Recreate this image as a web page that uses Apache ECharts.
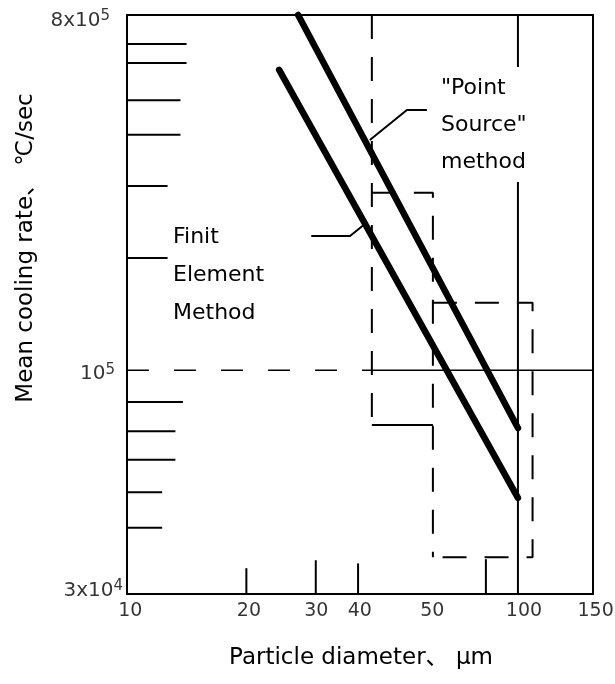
<!DOCTYPE html>
<html>
<head>
<meta charset="utf-8">
<script src="https://cdn.jsdelivr.net/npm/echarts@6/dist/echarts.min.js"></script>
<style>
  html, body { margin: 0; background: #fff; }
  #main { width: 615px; height: 684px; }
</style>
</head>
<body>
<div id="main"></div>
<script>
// mean cooling rate vs particle diameter, both axes log
const pointSourceDiameter = [27.4, 100]
const pointSourceRate = [800000, 71300]
const finiteElemDiameter = [24.5, 100]
const finiteElemRate = [580000, 47400]

// short inside ticks (left side: rate + how far they reach, bottom: diameter + height)
const yMinorRates = [675000, 604000, 486000, 397000, 294000, 193000, 83100, 70000, 59200, 49000, 39800]
const yMinorEnds = [14.2, 14.2, 13.7, 13.7, 12.7, 12.7, 13.9, 13.3, 13.3, 12.3, 12.3]
const xMinorDiameters = [20.2, 30.4, 39.0, 82.8]
const xMinorTops = [31400, 32900, 32300, 33100]

// tick labels as printed on the figure
const xLabelAt = [10.2, 20.5, 30.5, 39.4, 60.4, 103.6, 158]
const xLabelText = ['10', '20', '30', '40', '50', '100', '150']
const yLabelAt = [800000, 100000, 27000]
const yLabelText = ['{b|8x10}{s|5}', '{b|10}{s|5}', '{b|3x10}{s|4}']

// reference lines and the two dashed ranges
const rateRef = 100000
const rateRefSplit = 42.3
const diamRef = 100
const diamRefGap = [301000, 590000]
const box1Diam = [42.3, 60.6]
const box1Rate = [72600, 282800]
const box2Diam = [60.6, 109]
const box2Rate = [33500, 148400]

const xMin = 10, xMax = 155.6
const yMin = 27000, yMax = 800000
const FONT = '"DejaVu Sans", "Noto Sans CJK JP", sans-serif'

function seg (pts, opt) {
  opt = opt || {}
  return {
    type: 'line',
    data: pts,
    symbol: 'none',
    silent: true,
    clip: false,
    z: opt.z || 2,
    lineStyle: {
      color: '#000',
      width: opt.width || 2,
      type: opt.dash || 'solid',
      cap: opt.cap || 'butt'
    }
  }
}

let series = []

// thick result lines
series.push(seg(pointSourceDiameter.map((d, i) => [d, pointSourceRate[i]]), { width: 6.5, cap: 'round', z: 5 }))
series.push(seg(finiteElemDiameter.map((d, i) => [d, finiteElemRate[i]]), { width: 6.5, cap: 'round', z: 5 }))

// inside ticks
yMinorRates.forEach((r, i) => series.push(seg([[xMin, r], [yMinorEnds[i], r]])))
xMinorDiameters.forEach((d, i) => series.push(seg([[d, yMin], [d, xMinorTops[i]]])))

// 10^5 line: dashed then solid
series.push(seg([[xMin, rateRef], [rateRefSplit, rateRef]], { width: 1.6, dash: [22, 25] }))
series.push(seg([[rateRefSplit, rateRef], [xMax, rateRef]], { width: 1.6 }))

// 100 um line, broken where the label sits
series.push(seg([[diamRef, yMin], [diamRef, diamRefGap[0]]]))
series.push(seg([[diamRef, diamRefGap[1]], [diamRef, yMax]]))

// dashed boxes
const dash = [24, 18]
series.push(seg([[box1Diam[0], yMax], [box1Diam[0], box1Rate[0]]], { dash: dash }))
series.push(seg([[box1Diam[0], box1Rate[1]], [box1Diam[1], box1Rate[1]], [box1Diam[1], box2Rate[0]]], { dash: dash }))
series.push(seg([[box1Diam[0], box1Rate[0]], [box1Diam[1], box1Rate[0]]]))
series.push(seg([[box2Diam[0], box2Rate[1]], [box2Diam[1], box2Rate[1]], [box2Diam[1], box2Rate[0]], [box2Diam[0], box2Rate[0]]], { dash: dash }))

// leader lines for the two labels
series.push(seg([[58.5, 459000], [52.0, 459000], [41.8, 385000]]))
series.push(seg([[29.6, 219500], [37.2, 219500], [40.3, 234000]]))

// x tick labels
series.push({
  type: 'scatter',
  data: xLabelAt.map(d => [d, yMin]),
  symbolSize: 0,
  silent: true,
  clip: false,
  label: {
    show: true,
    position: 'bottom',
    distance: 8,
    color: '#000',
    fontFamily: FONT,
    fontSize: 19,
    formatter: p => xLabelText[p.dataIndex]
  }
})

// y tick labels with superscripts
const yLabelTweak = [[-17, 5], [-12, 3], [-4, -4]]
series.push({
  type: 'scatter',
  symbolSize: 0,
  silent: true,
  clip: false,
  data: yLabelAt.map((r, i) => ({
    value: [xMin, r],
    label: { offset: yLabelTweak[i] }
  })),
  label: {
    show: true,
    position: 'left',
    distance: 0,
    formatter: p => yLabelText[p.dataIndex],
    rich: {
      b: { fontFamily: FONT, fontSize: 20, color: '#000', lineHeight: 22, verticalAlign: 'bottom' },
      s: { fontFamily: FONT, fontSize: 15, color: '#000', lineHeight: 15, verticalAlign: 'top' }
    }
  }
})

const myChart = echarts.init(document.getElementById('main'))
const option = {
  animation: false,
  backgroundColor: '#fff',
  grid: {
    left: 127, top: 15, right: 22, bottom: 90,
    show: true, borderColor: '#000', borderWidth: 2, backgroundColor: 'transparent'
  },
  xAxis: {
    type: 'log', logBase: 10, min: xMin, max: xMax,
    axisLine: { show: false }, axisTick: { show: false },
    axisLabel: { show: false }, splitLine: { show: false }, minorSplitLine: { show: false }
  },
  yAxis: {
    type: 'log', logBase: 10, min: yMin, max: yMax,
    axisLine: { show: false }, axisTick: { show: false },
    axisLabel: { show: false }, splitLine: { show: false }, minorSplitLine: { show: false }
  },
  graphic: [
    {
      type: 'text', x: 26, y: 248, rotation: Math.PI / 2,
      style: { text: 'Mean cooling rate、 ℃/sec', font: '23px ' + FONT, fill: '#000', align: 'center', verticalAlign: 'middle' }
    },
    {
      type: 'text', x: 361, y: 658,
      style: { text: 'Particle diameter、 μm', font: '23px ' + FONT, fill: '#000', align: 'center', verticalAlign: 'middle' }
    },
    {
      type: 'text', x: 441, y: 70,
      style: { text: '"Point\nSource"\nmethod', font: '22px ' + FONT, lineHeight: 37, fill: '#000', align: 'left', verticalAlign: 'top' }
    },
    {
      type: 'text', x: 173, y: 218,
      style: { text: 'Finit\nElement\nMethod', font: '22px ' + FONT, lineHeight: 38, fill: '#000', align: 'left', verticalAlign: 'top' }
    }
  ],
  series: series
}
myChart.setOption(option)
</script>
</body>
</html>
